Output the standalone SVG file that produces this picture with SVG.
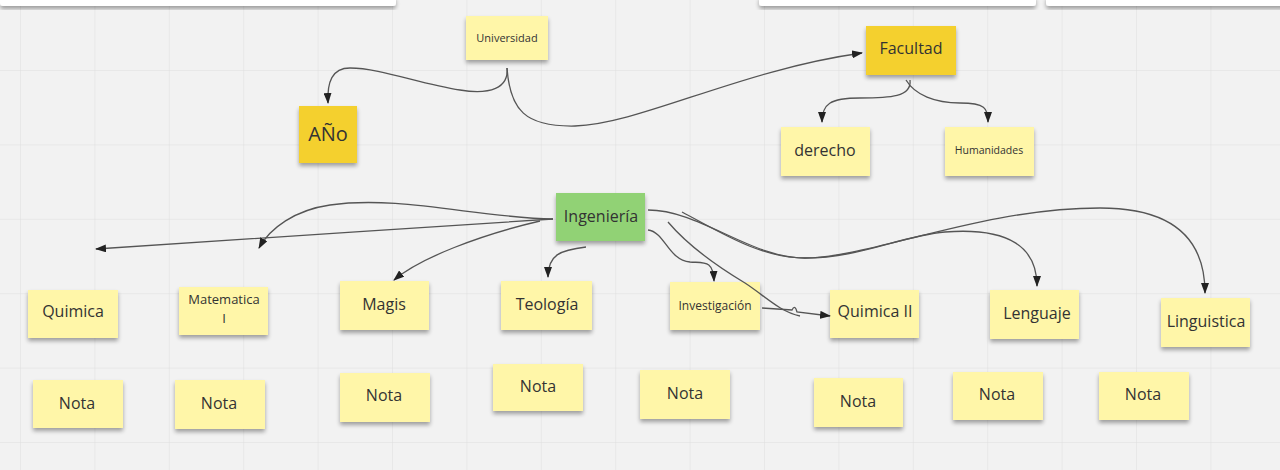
<svg xmlns="http://www.w3.org/2000/svg" width="1280" height="470" viewBox="0 0 1280 470">
<defs>
<pattern id="grid" patternUnits="userSpaceOnUse" x="20" y="-4.4" width="74.4" height="74.4">
<path d="M0,0 V74.4 M0,0 H74.4" fill="none" stroke="#dedede" stroke-width="1"/>
</pattern>
<filter id="sh" x="-20%" y="-20%" width="140%" height="160%">
<feGaussianBlur in="SourceAlpha" stdDeviation="2"/>
<feOffset dx="0" dy="3" result="b"/>
<feComponentTransfer><feFuncA type="linear" slope="0.35"/></feComponentTransfer>
<feMerge><feMergeNode/><feMergeNode in="SourceGraphic"/></feMerge>
</filter>
<marker id="arr" markerUnits="userSpaceOnUse" markerWidth="11" markerHeight="8" refX="10" refY="4" orient="auto">
<path d="M0,0 L11,4 L0,8 z" fill="#222"/>
</marker>
<style>
.n{fill:#fff6a8;filter:url(#sh)}
.d{fill:#f4d02f;filter:url(#sh)}
.g{fill:#91d275;filter:url(#sh)}
text{font-family:"Open Sans","Noto Sans","Liberation Sans",sans-serif;fill:#333;text-anchor:middle;dominant-baseline:central}
.c path{fill:none;stroke:#555;stroke-width:1.3;marker-end:url(#arr)}
.c path.p{marker-end:none}
</style>
</defs>
<rect width="1280" height="470" fill="#f2f2f2"/>
<rect width="1280" height="470" fill="url(#grid)"/>
<g id="topbars" filter="url(#sh)">
<rect x="0" y="-4" width="396" height="10" rx="3" fill="#fff"/>
<rect x="759" y="-4" width="277" height="10" rx="3" fill="#fff"/>
<rect x="1046" y="-4" width="240" height="10" rx="3" fill="#fff"/>
</g>
<g id="universidad"><rect class="n" x="466" y="16" width="82" height="44"/><text x="507" y="37" font-size="11">Universidad</text></g>
<g id="ano"><rect class="d" x="299" y="106" width="58" height="57"/><text x="328" y="133" font-size="20">AÑo</text></g>
<g id="facultad"><rect class="d" x="866" y="26" width="90" height="49"/><text x="911" y="48" font-size="16">Facultad</text></g>
<g id="derecho"><rect class="n" x="781" y="127" width="89" height="49"/><text x="825" y="150" font-size="16">derecho</text></g>
<g id="humanidades"><rect class="n" x="945" y="127" width="89" height="49"/><text x="989" y="150" font-size="10.5">Humanidades</text></g>
<g id="ingenieria"><rect class="g" x="556" y="193" width="89" height="48"/><text x="601" y="216" font-size="16">Ingeniería</text></g>
<g id="quimica"><rect class="n" x="28" y="290" width="90" height="48"/><text x="73" y="311" font-size="16">Quimica</text></g>
<g id="matematica"><rect class="n" x="179" y="287" width="89" height="48"/><text x="224" y="299" font-size="13">Matematica</text><text x="224" y="318" font-size="13">I</text></g>
<g id="magis"><rect class="n" x="340" y="281" width="89" height="49"/><text x="384" y="304" font-size="16">Magis</text></g>
<g id="teologia"><rect class="n" x="501" y="281" width="91" height="49"/><text x="547" y="304" font-size="16">Teología</text></g>
<g id="investigacion"><rect class="n" x="670" y="282" width="90" height="48"/><text x="715" y="305" font-size="12">Investigación</text></g>
<g id="quimica2"><rect class="n" x="830" y="290" width="89" height="48"/><text x="875" y="311" font-size="16">Quimica II</text></g>
<g id="lenguaje"><rect class="n" x="990" y="290" width="89" height="49"/><text x="1037" y="313" font-size="16">Lenguaje</text></g>
<g id="linguistica"><rect class="n" x="1161" y="298" width="89" height="49"/><text x="1206" y="321" font-size="16">Linguistica</text></g>
<g id="nota1"><rect class="n" x="33" y="380" width="90" height="48"/><text x="77" y="403" font-size="16">Nota</text></g>
<g id="nota2"><rect class="n" x="175" y="380" width="90" height="49"/><text x="219" y="403" font-size="16">Nota</text></g>
<g id="nota3"><rect class="n" x="340" y="373" width="90" height="49"/><text x="384" y="395" font-size="16">Nota</text></g>
<g id="nota4"><rect class="n" x="493" y="364" width="90" height="47"/><text x="538" y="386" font-size="16">Nota</text></g>
<g id="nota5"><rect class="n" x="640" y="370" width="90" height="49"/><text x="685" y="393" font-size="16">Nota</text></g>
<g id="nota6"><rect class="n" x="814" y="378" width="89" height="49"/><text x="858" y="401" font-size="16">Nota</text></g>
<g id="nota7"><rect class="n" x="953" y="372" width="90" height="48"/><text x="997" y="394" font-size="16">Nota</text></g>
<g id="nota8"><rect class="n" x="1099" y="372" width="90" height="48"/><text x="1143" y="394" font-size="16">Nota</text></g>
<g class="c" id="connectors">
<path d="M507,68 C509,88 490,95 460,90 C420,84 380,68 350,68 C332,68 327,82 328,103"/>
<path d="M507,68 C510,110 525,127 575,126 C640,124 740,70 862,53"/>
<path d="M910,80 C912,97 890,98 860,98 C830,98 822,104 822,122"/>
<path d="M906,80 C915,95 935,103 960,103 C985,103 988,108 988,122"/>
<path d="M553,219 C400,228 250,240 96,249"/>
<path d="M553,219 C480,218 400,195 330,205 C295,210 270,228 259,248"/>
<path d="M540,221 C480,235 420,258 394,280"/>
<path d="M586,247 C560,250 548,255 548,277"/>
<path d="M648,230 C665,232 668,260 690,262 C705,263 713,260 714,281"/>
<path class="p" d="M668,222 C690,248 720,268 745,283 C765,296 780,312 800,316"/>
<path d="M762,308 L792,310 Q795,304 797,312 L830,316"/>
<path d="M648,210 C700,210 750,258 805,258 C870,258 980,208 1100,208 C1175,208 1205,240 1205,293"/>
<path d="M682,212 C720,232 760,258 805,258 C860,258 900,236 945,232 C1010,227 1037,248 1037,286"/>
</g>
</svg>
